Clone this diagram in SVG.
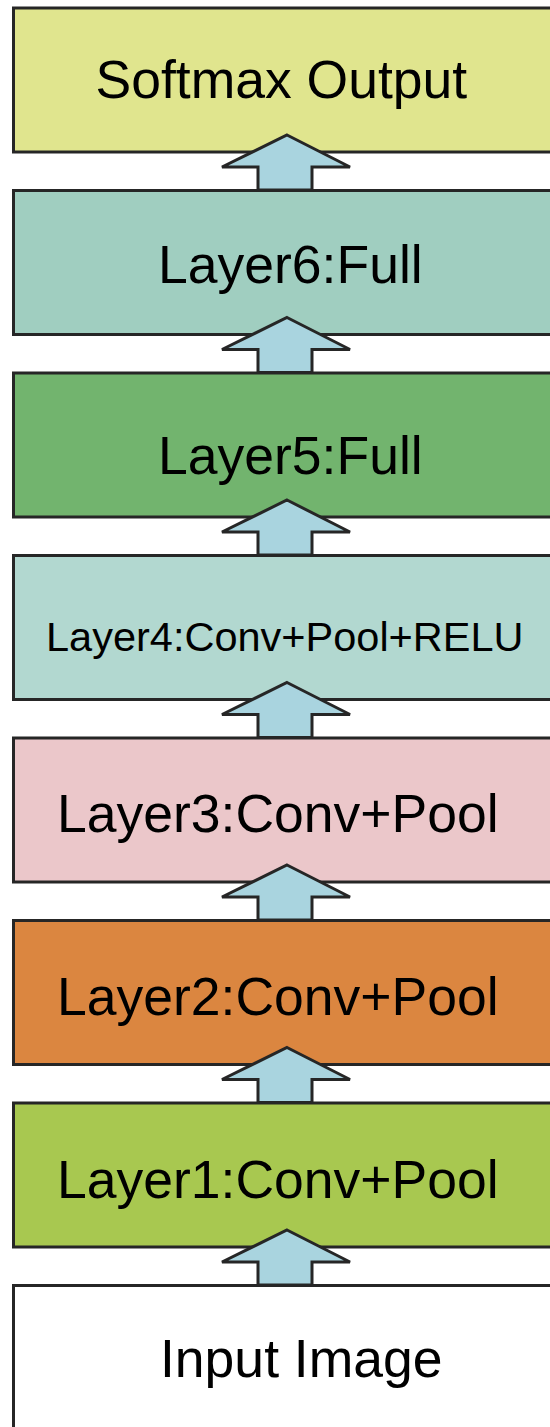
<svg xmlns="http://www.w3.org/2000/svg" width="550" height="1427" viewBox="0 0 550 1427">
<style>
.box{stroke:#262626;stroke-width:3}
.lbl{font-family:"Liberation Sans",Arial,sans-serif;font-size:53.5px;fill:#000}
.sm{font-size:41.5px}
.arr{fill:#a9d4df;stroke:#262626;stroke-width:3;stroke-linejoin:miter}
</style>
<defs>
<polygon id="arrow" points="287,-17 350,15 312,15 312,38 258,38 258,15 222,15"/>
</defs>
<rect x="0" y="0" width="550" height="1427" fill="#fff"/>
<g id="softmax"><rect class="box" x="13.5" y="8" width="600" height="144" fill="#e0e58e"/><text class="lbl" x="95.5" y="98">Softmax Output</text></g>
<g id="layer6"><rect class="box" x="13.5" y="190.5" width="600" height="144" fill="#a0cec0"/><text class="lbl" x="158" y="283">Layer6:Full</text></g>
<g id="layer5"><rect class="box" x="13.5" y="373" width="600" height="144" fill="#72b46e"/><text class="lbl" x="158" y="474">Layer5:Full</text></g>
<g id="layer4"><rect class="box" x="13.5" y="555.5" width="600" height="144" fill="#b2d8d0"/><text class="lbl sm" x="46" y="651">Layer4:Conv+Pool+RELU</text></g>
<g id="layer3"><rect class="box" x="13.5" y="738" width="600" height="144" fill="#ebc7ca"/><text class="lbl" x="57" y="832">Layer3:Conv+Pool</text></g>
<g id="layer2"><rect class="box" x="13.5" y="920.5" width="600" height="144" fill="#db8640"/><text class="lbl" x="57" y="1015">Layer2:Conv+Pool</text></g>
<g id="layer1"><rect class="box" x="13.5" y="1103" width="600" height="144" fill="#a8c850"/><text class="lbl" x="57" y="1198">Layer1:Conv+Pool</text></g>
<g id="input"><rect class="box" x="13.5" y="1285.5" width="600" height="200" fill="#fff"/><text class="lbl" x="160" y="1377">Input Image</text></g>
<g id="connectors">
<use href="#arrow" class="arr" transform="translate(0,152)"/>
<use href="#arrow" class="arr" transform="translate(0,334.5)"/>
<use href="#arrow" class="arr" transform="translate(0,517)"/>
<use href="#arrow" class="arr" transform="translate(0,699.5)"/>
<use href="#arrow" class="arr" transform="translate(0,882)"/>
<use href="#arrow" class="arr" transform="translate(0,1064.5)"/>
<use href="#arrow" class="arr" transform="translate(0,1247)"/>
</g>
</svg>
